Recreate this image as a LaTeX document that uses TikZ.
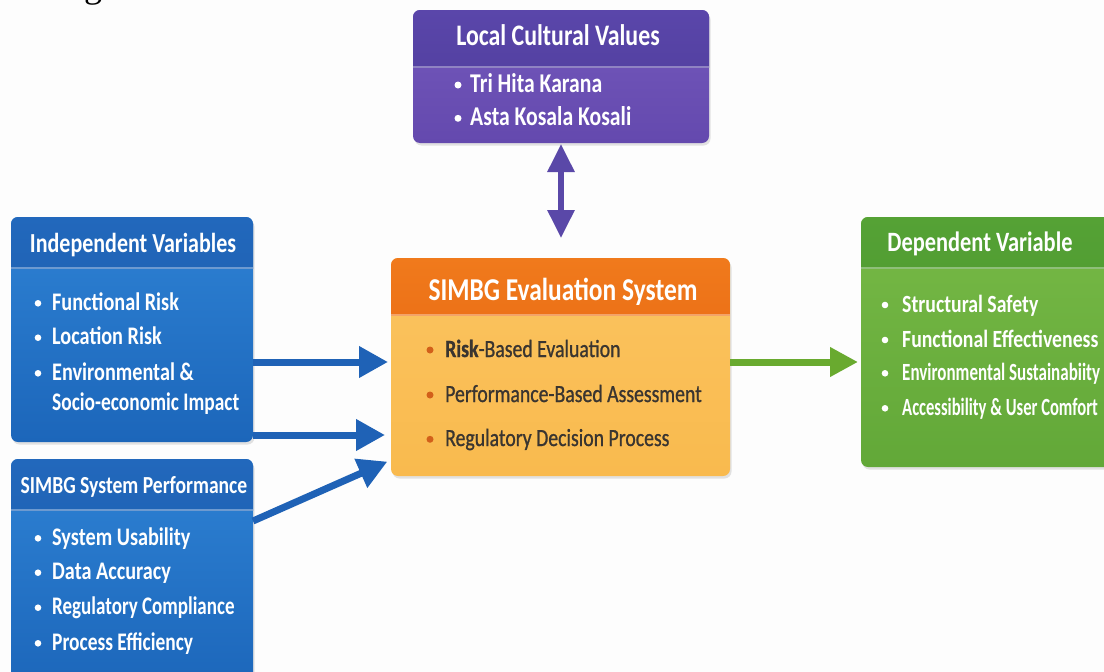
\documentclass[tikz,border=0pt]{standalone}
\usepackage{fontspec}
\setmainfont{Carlito}[FakeStretch=0.8]
\newfontfamily\evfont{Carlito}[FakeStretch=0.8, FakeBold=0.9]
\newfontfamily\fragfont{Liberation Serif}
\usetikzlibrary{arrows.meta,shadows}
\definecolor{bgpaper}{HTML}{FDFDFD}
\definecolor{bluehdrA}{HTML}{2268BC}
\definecolor{bluehdrB}{HTML}{1A58A6}
\definecolor{bluetop}{HTML}{2E82D4}
\definecolor{bluebot}{HTML}{1C66BA}
\definecolor{purphdrA}{HTML}{5A46AA}
\definecolor{purphdrB}{HTML}{4C3B98}
\definecolor{purptop}{HTML}{7459BC}
\definecolor{purpbot}{HTML}{6449AE}
\definecolor{orghdrA}{HTML}{F07A1C}
\definecolor{orghdrB}{HTML}{E35B0B}
\definecolor{orgtop}{HTML}{FBC460}
\definecolor{orgmid}{HTML}{FDDC98}
\definecolor{orgbot}{HTML}{F9BA4E}
\definecolor{grnhdrA}{HTML}{55A235}
\definecolor{grnhdrB}{HTML}{468F2B}
\definecolor{grntop}{HTML}{77B946}
\definecolor{grnbot}{HTML}{62A838}
\definecolor{arrblue}{HTML}{1F62B6}
\definecolor{arrgreen}{HTML}{69AA2F}
\definecolor{arrpurple}{HTML}{5A48A8}
\definecolor{evaltext}{HTML}{3A3530}
\definecolor{evalbullet}{HTML}{D2601A}
\begin{document}
\begin{tikzpicture}[x=1pt,y=-1pt,
  panel/.style={rounded corners=7pt, inner sep=0pt, outer sep=0pt,
    drop shadow={shadow xshift=1.5pt, shadow yshift=-2.5pt, opacity=0.22}},
  hdr/.style n args={3}{path picture={
    \shade[sharp corners, top color=#1, bottom color=#2]
      (path picture bounding box.north west) rectangle ([yshift=-#3]path picture bounding box.north east);
    \draw[sharp corners, white, opacity=0.35, line width=1.2pt]
      ([yshift=-#3]path picture bounding box.north west) -- ([yshift=-#3]path picture bounding box.north east);}},
  hdrtxt/.style={text=white, anchor=base, inner sep=0pt},
  itm/.style={text=white, anchor=base west, inner sep=0pt},
  evitm/.style={text=evaltext, anchor=base west, inner sep=0pt, font=\evfont\fontsize{24.7}{29}\selectfont},
  blueArrow/.style={draw=arrblue, line width=7pt, -{Triangle[length=29pt,width=30pt]}},
  greenArrow/.style={draw=arrgreen, line width=7pt, -{Triangle[length=28pt,width=28pt]}},
  purpleArrow/.style={draw=arrpurple, line width=6pt,
    {Triangle[length=28pt,width=26pt]}-{Triangle[length=28pt,width=26pt]}},
  wbul/.style={fill=white},
  obul/.style={fill=evalbullet}
]
\useasboundingbox (0,0) rectangle (1104,672);
\fill[bgpaper] (0,0) rectangle (1104,672);

% caption fragment at the top edge
\node[anchor=base, inner sep=0pt, font=\fragfont\fontsize{36}{40}\selectfont] (frag) at (93,-3) {g};

% panels
\node[panel, top color=bluetop, bottom color=bluebot, hdr={bluehdrA}{bluehdrB}{51pt},
  minimum width=242pt, minimum height=225pt] (ind) at (132,329.5) {};
\node[panel, top color=bluetop, bottom color=bluebot, hdr={bluehdrA}{bluehdrB}{51pt},
  minimum width=242pt, minimum height=231pt] (perf) at (132,574.5) {};
\node[panel, top color=purptop, bottom color=purpbot, hdr={purphdrA}{purphdrB}{57pt},
  minimum width=296pt, minimum height=133pt] (loc) at (561,76.5) {};
\node[panel, top color=orgtop, middle color=orgmid, bottom color=orgbot, hdr={orghdrA}{orghdrB}{57pt},
  minimum width=339pt, minimum height=218pt] (eval) at (560.5,367) {};
\node[panel, top color=grntop, bottom color=grnbot, hdr={grnhdrA}{grnhdrB}{51pt},
  minimum width=251pt, minimum height=250pt] (dep) at (986.5,342) {};

% headers
\node[hdrtxt, font=\bfseries\fontsize{27.5}{32}\selectfont] (indH) at (133,252) {Independent Variables};
\node[hdrtxt, font=\bfseries\fontsize{24.5}{29}\selectfont] (perfH) at (134,493) {SIMBG System Performance};
\node[hdrtxt, font=\bfseries\fontsize{29.8}{34}\selectfont] (locH) at (558,45) {Local Cultural Values};
\node[hdrtxt, font=\bfseries\fontsize{31.8}{36}\selectfont] (evalH) at (563,300) {SIMBG Evaluation System};
\node[hdrtxt, font=\bfseries\fontsize{28}{32}\selectfont] (depH) at (980,251) {Dependent Variable};

% independent items
\begin{scope}[every node/.append style={font=\bfseries\fontsize{25.3}{30}\selectfont}]
\node[itm] (ind1) at (52,310) {Functional Risk};
\node[itm] (ind2) at (52,344) {Location Risk};
\node[itm] (ind3) at (52,380) {Environmental \&};
\node[itm] (ind4) at (52,410) {\scalebox{0.96}[1]{Socio-economic Impact}};
\node[itm] (perf1) at (52,545) {System Usability};
\node[itm] (perf2) at (52,579) {Data Accuracy};
\node[itm] (perf3) at (52,614) {\scalebox{0.94}[1]{Regulatory Compliance}};
\node[itm] (perf4) at (52,650) {\scalebox{0.96}[1]{Process Efficiency}};
\end{scope}
\fill[wbul] (38,303.3) circle (3.3pt);
\fill[wbul] (38,337.7) circle (3.3pt);
\fill[wbul] (38,373.3) circle (3.3pt);
\fill[wbul] (38,538.3) circle (3.3pt);
\fill[wbul] (38,572.7) circle (3.3pt);
\fill[wbul] (38,607.7) circle (3.3pt);
\fill[wbul] (38,643.3) circle (3.3pt);

% local cultural values items
\begin{scope}[every node/.append style={font=\bfseries\fontsize{27.1}{32}\selectfont}]
\node[itm] (loc1) at (470,92) {Tri Hita Karana};
\node[itm] (loc2) at (470,125) {Asta Kosala Kosali};
\end{scope}
\fill[wbul] (458,85) circle (3.5pt);
\fill[wbul] (458,118.3) circle (3.5pt);

% evaluation items
\node[evitm] (ev1) at (445,357) {\textbf{Risk}-Based Evaluation};
\node[evitm] (ev2) at (445,402) {Performance-Based Assessment};
\node[evitm] (ev3) at (445,446) {Regulatory Decision Process};
\fill[obul] (430,350) circle (3.5pt);
\fill[obul] (430,395) circle (3.5pt);
\fill[obul] (430,439.3) circle (3.5pt);

% dependent items
\begin{scope}[every node/.append style={font=\bfseries\fontsize{24.7}{29}\selectfont}]
\node[itm] (dep1) at (902,312) {Structural Safety};
\node[itm] (dep2) at (902,347) {Functional Effectiveness};
\node[itm] (dep3) at (902,380) {\scalebox{0.86}[1]{Environmental Sustainabiity}};
\node[itm] (dep4) at (902,415) {\scalebox{0.84}[1]{Accessibility \& User Comfort}};
\end{scope}
\fill[wbul] (885,305) circle (3.3pt);
\fill[wbul] (885,340) circle (3.3pt);
\fill[wbul] (885,373.3) circle (3.3pt);
\fill[wbul] (885,408.3) circle (3.3pt);

% connectors
\draw[blueArrow, shorten >=3pt] (ind.east |- 0,362) -- (eval.west |- 0,362);
\draw[blueArrow, shorten >=6pt] (ind.east |- 0,435) -- (eval.west |- 0,435);
\draw[blueArrow, shorten >=4pt] (perf.east |- 0,521) -- (eval.west |- 0,460);
\draw[greenArrow, shorten >=3pt] (eval.east |- 0,362) -- (dep.west |- 0,362);
\draw[purpleArrow, shorten <=1pt, shorten >=20pt] (loc.south) -- (loc.south |- eval.north);
\end{tikzpicture}
\end{document}
